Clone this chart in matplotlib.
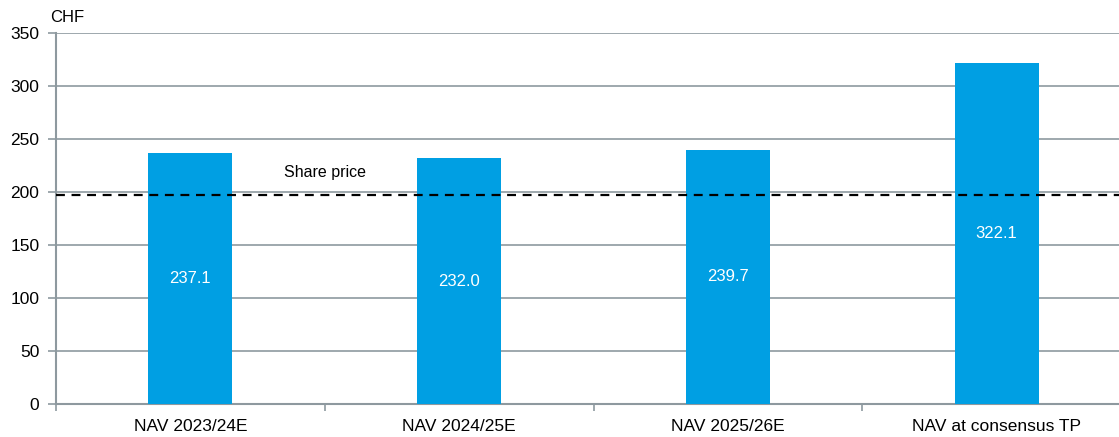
import numpy as np
import matplotlib
matplotlib.use("Agg")
import matplotlib.pyplot as plt

plt.rcParams['font.family'] = ['Liberation Sans', 'DejaVu Sans']

# data
categories = ['NAV 2023/24E', 'NAV 2024/25E', 'NAV 2025/26E', 'NAV at consensus TP']
nav_values = [237.1, 232.0, 239.7, 322.1]
share_price = 197

bar_color = '#009FE3'
grid_color = '#8E999F'

fig = plt.figure(figsize=(11.19, 4.37), dpi=100)
# axis runs a bit past the right edge of the picture, as in the original
ax = fig.add_axes([56 / 1119, 33 / 437, 1075 / 1119, 371 / 437])

x = np.arange(len(categories))
bars = ax.bar(x, nav_values, width=0.3125, color=bar_color, zorder=3)

for xi, v in zip(x, nav_values):
    ax.text(xi, v / 2, f'{v:.1f}', ha='center', va='center', color='white', fontsize=12, zorder=4)

ax.axhline(share_price, color='black', linestyle=(0, (4, 3)), linewidth=1.6, zorder=5)
ax.text(0.5, share_price + 21, 'Share price', ha='center', va='center', fontsize=11.5)

ax.set_xlim(-0.5, len(categories) - 0.5)
ax.set_ylim(0, 350)
ax.set_yticks(np.arange(0, 351, 50))
ax.grid(axis='y', color=grid_color, linewidth=1.2, zorder=0)

ax.set_xticks(x)
ax.set_xticklabels(categories, fontsize=12.5)
ax.set_xticks(np.arange(-0.5, len(categories), 1), minor=True)
ax.tick_params(axis='x', which='major', length=0, pad=11)
ax.tick_params(axis='x', which='minor', length=5, color=grid_color, width=1.2)
ax.tick_params(axis='y', length=6, color=grid_color, width=1.2, labelsize=12.5, pad=6)

for side in ['top', 'right']:
    ax.spines[side].set_visible(False)
for side in ['left', 'bottom']:
    ax.spines[side].set_color(grid_color)
    ax.spines[side].set_linewidth(1.5)

fig.text(50 / 1119, 1 - 17 / 437, 'CHF', ha='left', va='center', fontsize=12)

fig.savefig('out.png', dpi=100)
